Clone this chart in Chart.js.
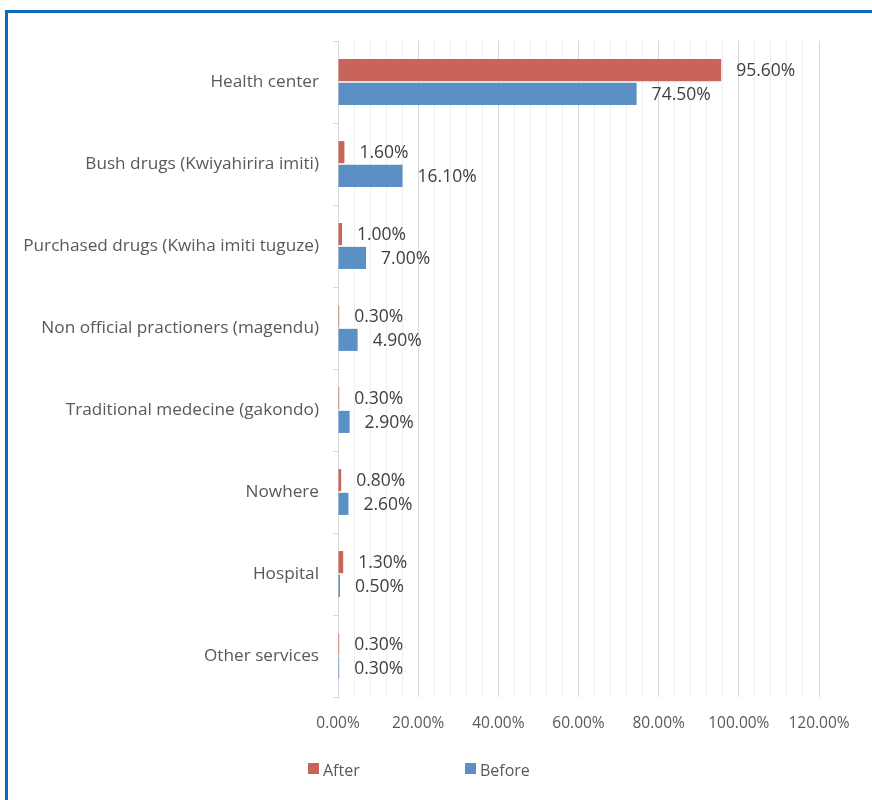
<!DOCTYPE html>
<html>
<head>
<meta charset="utf-8">
<script src="https://cdn.jsdelivr.net/npm/chart.js@4/dist/chart.umd.min.js"></script>
<style>
  html, body { margin: 0; padding: 0; background: #fff; width: 872px; height: 800px; overflow: hidden; }
  #frame { position: absolute; left: 5px; top: 10px; width: 900px; height: 900px; border: 3px solid #1268BE; box-sizing: border-box; }
  #wrap { position: absolute; left: 0; top: 0; width: 872px; height: 800px; }
</style>
</head>
<body>
<div id="frame"></div>
<div id="wrap"><canvas id="c" width="872" height="800"></canvas></div>
<script>
const categories = [
  "Health center",
  "Bush drugs (Kwiyahirira imiti)",
  "Purchased drugs (Kwiha imiti tuguze)",
  "Non official practioners (magendu)",
  "Traditional medecine (gakondo)",
  "Nowhere",
  "Hospital",
  "Other services"
];
const afterValues = [95.6, 1.6, 1.0, 0.3, 0.3, 0.8, 1.3, 0.3];
const beforeValues = [74.5, 16.1, 7.0, 4.9, 2.9, 2.6, 0.5, 0.3];
const seriesNames = ["After", "Before"];
const seriesColors = ["#C9645B", "#5B90C5"];
const xMax = 120;

const FONT = "'Open Sans', sans-serif";
const TEXT = "#595959";

const dataLabels = {
  id: 'dataLabels',
  afterDatasetsDraw(chart) {
    const ctx = chart.ctx;
    ctx.save();
    ctx.font = "17.5px " + FONT;
    ctx.fillStyle = "#404040";
    ctx.textAlign = "left";
    ctx.textBaseline = "middle";
    chart.data.datasets.forEach((ds, i) => {
      const meta = chart.getDatasetMeta(i);
      meta.data.forEach((bar, j) => {
        ctx.fillText(ds.data[j].toFixed(2) + "%", bar.x + 15, bar.y + 1);
      });
    });
    ctx.restore();
  }
};

const customLegend = {
  id: 'customLegend',
  afterDraw(chart) {
    const ctx = chart.ctx;
    const xs = [308, 465];
    ctx.save();
    ctx.font = "16px " + FONT;
    ctx.textBaseline = "middle";
    ctx.textAlign = "left";
    chart.data.datasets.forEach((ds, i) => {
      ctx.fillStyle = ds.backgroundColor;
      ctx.fillRect(xs[i], 763, 11, 11);
      ctx.fillStyle = TEXT;
      ctx.fillText(ds.label, xs[i] + 15, 771);
    });
    ctx.restore();
  }
};

new Chart(document.getElementById('c'), {
  type: 'bar',
  data: {
    labels: categories,
    datasets: [
      { label: seriesNames[0], data: afterValues, backgroundColor: seriesColors[0], categoryPercentage: 0.58, barPercentage: 0.93 },
      { label: seriesNames[1], data: beforeValues, backgroundColor: seriesColors[1], categoryPercentage: 0.58, barPercentage: 0.93 }
    ]
  },
  options: {
    indexAxis: 'y',
    responsive: false,
    animation: false,
    layout: { padding: { left: 0, top: 41, right: 53, bottom: 0 } },
    plugins: { legend: { display: false }, tooltip: { enabled: false } },
    scales: {
      x: {
        min: 0, max: xMax,
        afterFit(axis) { axis.height = 103; },
        border: { display: false },
        grid: {
          drawTicks: false,
          color: (c) => (c.tick && Math.round(c.tick.value) % 20 === 0) ? '#D9D9D9' : '#EFEFEF',
          lineWidth: 1
        },
        ticks: {
          stepSize: 4,
          autoSkip: false,
          maxRotation: 0,
          padding: 17,
          color: TEXT,
          font: { family: FONT, size: 15.5 },
          callback: (v) => (Math.round(v) % 20 === 0) ? v.toFixed(2) + '%' : ''
        }
      },
      y: {
        afterFit(axis) { axis.width = 338; },
        border: { display: true, color: '#D9D9D9' },
        grid: { drawOnChartArea: false, offset: true, tickLength: 5, color: '#D9D9D9' },
        ticks: {
          padding: 14,
          color: TEXT,
          font: { family: FONT, size: 17.2 }
        }
      }
    }
  },
  plugins: [dataLabels, customLegend]
});
</script>
</body>
</html>
